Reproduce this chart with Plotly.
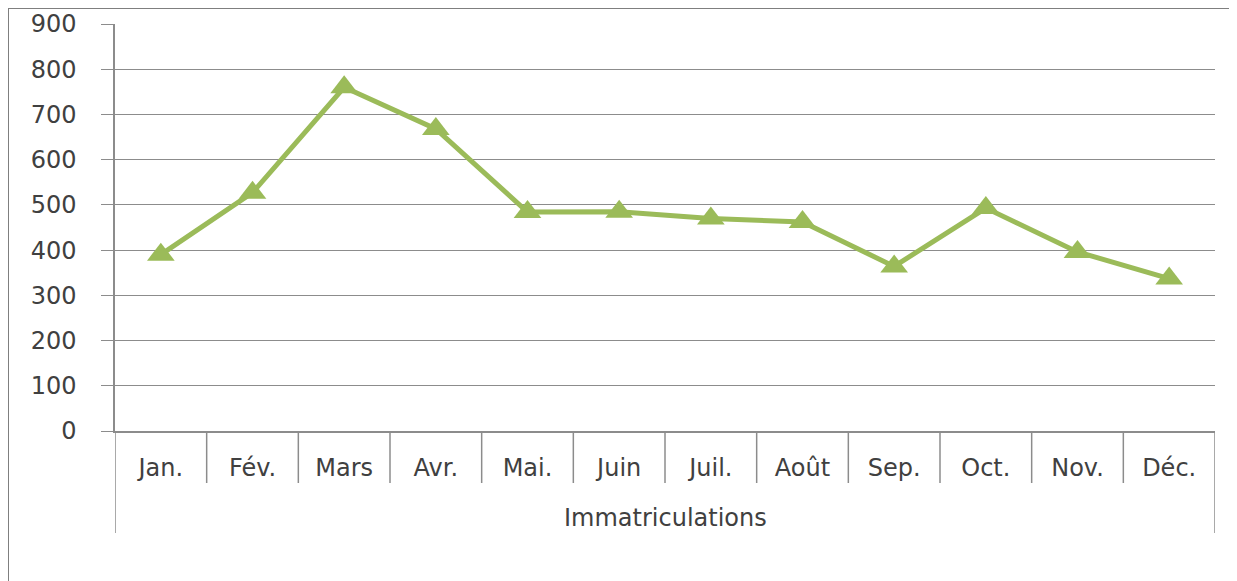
import plotly.graph_objects as go

months = ["Jan.", "Fév.", "Mars", "Avr.", "Mai.", "Juin", "Juil.", "Août", "Sep.", "Oct.", "Nov.", "Déc."]
immatriculations = [390, 527, 760, 668, 484, 485, 470, 462, 364, 493, 396, 337]
series_name = "Immatriculations"
y_ticks = [0, 100, 200, 300, 400, 500, 600, 700, 800, 900]

OFF = 8  # page body offset
W, H = 1237 - OFF, 581 - OFF
ML, MR, MT, MB = 115 - OFF, 22, 24 - OFF, 150
PW, PH = W - ML - MR, H - MT - MB

def px_x(p):
    return (p - OFF - ML) / PW

def px_y(p):
    return 1 - (p - OFF - MT) / PH

GREEN = "#9BBB59"
GRID = "#8c8c8c"
TEXT = "#404040"
FONT = "DejaVu Sans"
FS = 24

fig = go.Figure()
fig.add_trace(go.Scatter(
    x=months, y=immatriculations, name=series_name, mode="lines+markers",
    line=dict(color=GREEN, width=5),
    marker=dict(symbol="triangle-up", size=24, color=GREEN),
    showlegend=False,
))

shapes = []
for i in range(len(months) + 1):
    long = i == 0 or i == len(months)
    shapes.append(dict(type="line", xref="x", yref="paper",
                       x0=i - 0.5, x1=i - 0.5, y0=0,
                       y1=px_y(533) if long else px_y(483),
                       line=dict(color=GRID, width=1.5)))
shapes.append(dict(type="rect", xref="paper", yref="paper",
                   x0=px_x(8), x1=px_x(1235), y0=px_y(600), y1=px_y(8),
                   line=dict(color="#7f7f7f", width=2), layer="below"))

fig.update_layout(
    width=W, height=H, autosize=False,
    margin=dict(l=ML, r=MR, t=MT, b=MB, autoexpand=False),
    paper_bgcolor="white", plot_bgcolor="white",
    font=dict(family=FONT, size=FS, color=TEXT),
    shapes=shapes,
    annotations=[dict(text=series_name, xref="paper", yref="paper",
                      x=0.5, y=px_y(518), xanchor="center", yanchor="middle",
                      showarrow=False, font=dict(family=FONT, size=FS, color=TEXT))],
    xaxis=dict(
        type="category", categoryorder="array", categoryarray=months,
        range=[-0.5, len(months) - 0.5], automargin=False,
        showgrid=False, zeroline=False,
        showline=True, linecolor=GRID, linewidth=1.5,
        ticks="outside", ticklen=14, tickcolor="rgba(0,0,0,0)",
        tickfont=dict(family=FONT, size=FS, color=TEXT),
    ),
    yaxis=dict(
        range=[0, 900], tickvals=y_ticks, automargin=False,
        showgrid=True, gridcolor=GRID, gridwidth=1.2,
        zeroline=False,
        showline=True, linecolor=GRID, linewidth=1.5,
        ticks="outside", ticklen=12, tickcolor=GRID, tickwidth=1.2,
        ticklabelstandoff=20,
        tickfont=dict(family=FONT, size=FS, color=TEXT),
    ),
)

fig.write_html("out.html")
